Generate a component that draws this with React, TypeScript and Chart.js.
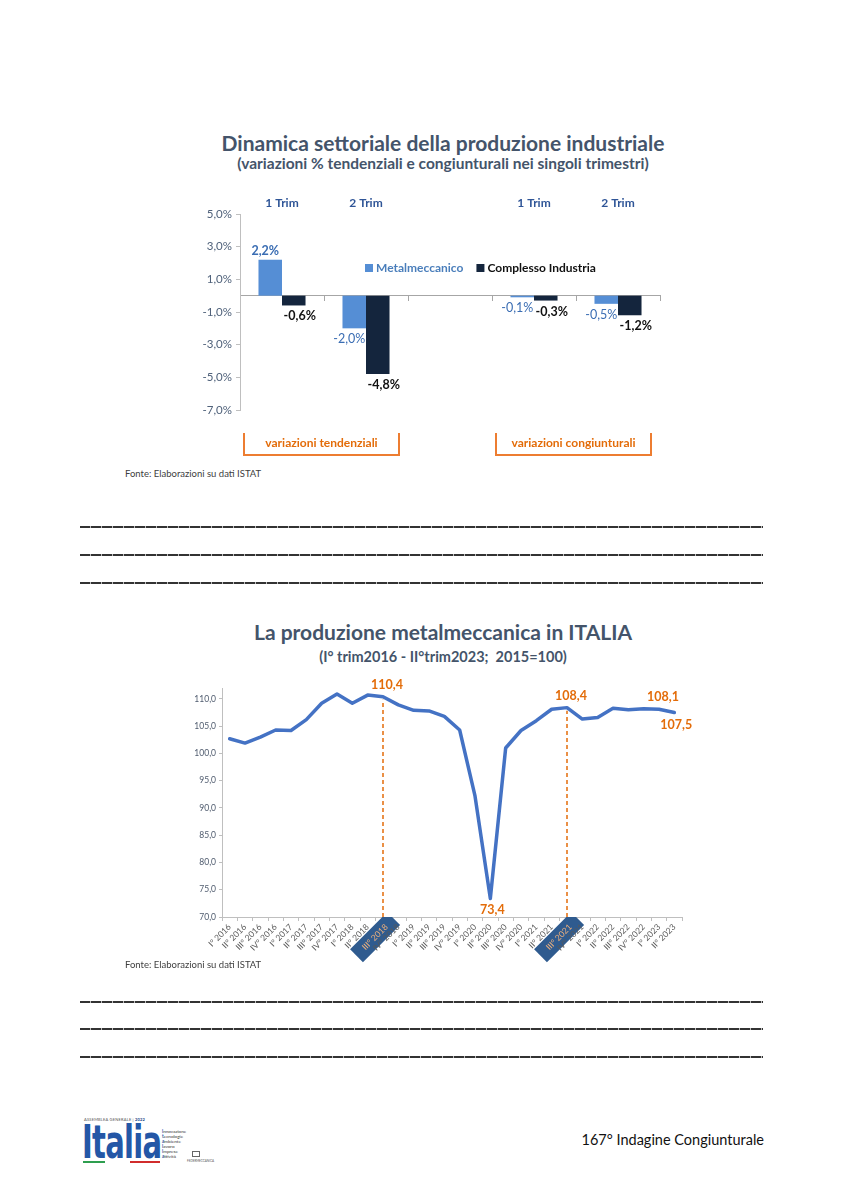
import React, { useEffect, useRef } from 'react';
import { Chart, registerables } from 'chart.js';

Chart.register(...registerables);

// ---------- Chart 1 data ----------
const barCategories = ['1 Trim', '2 Trim', '', '1 Trim', '2 Trim'];
const metalmeccanico = [2.2, -2.0, null, -0.1, -0.5];
const complessoIndustria = [-0.6, -4.8, null, -0.3, -1.2];
const barTickValues = [-7, -5, -3, -1, 1, 3, 5];
const barGroups = ['variazioni tendenziali', 'variazioni congiunturali'];

// ---------- Chart 2 data ----------
const quarters = [
  'I° 2016', 'II° 2016', 'III° 2016', 'IV° 2016',
  'I° 2017', 'II° 2017', 'III° 2017', 'IV° 2017',
  'I° 2018', 'II° 2018', 'III° 2018', 'IV° 2018',
  'I° 2019', 'II° 2019', 'III° 2019', 'IV° 2019',
  'I° 2020', 'II° 2020', 'III° 2020', 'IV° 2020',
  'I° 2021', 'II° 2021', 'III° 2021', 'IV° 2021',
  'I° 2022', 'II° 2022', 'III° 2022', 'IV° 2022',
  'I° 2023', 'II° 2023',
];
const produzione = [
  102.7, 101.9, 103.0, 104.3,
  104.2, 106.2, 109.2, 110.9,
  109.2, 110.7, 110.4, 108.9,
  107.9, 107.8, 106.8, 104.3,
  92.2, 73.4, 101.0, 104.2,
  106.0, 108.1, 108.4, 106.3,
  106.6, 108.3, 108.0, 108.2,
  108.1, 107.5,
];
const lineTickValues = [70, 75, 80, 85, 90, 95, 100, 105, 110];
const highlightedQuarters = ['III° 2018', 'III° 2021'];
const labelledAbove = ['III° 2018', 'III° 2021', 'I° 2023'];
const labelledBelow = ['II° 2020', 'II° 2023'];

const FONT = 'Lato, "Open Sans", "Liberation Sans", sans-serif';
const TITLE_COLOR = '#44546a';
const ORANGE = '#e36c09';

const fmt1 = (v: number) => v.toFixed(1).replace('.', ',');

const barDecor = {
  id: 'barDecor',
  afterDatasetsDraw(chart: any) {
    const ctx = chart.ctx;
    const area = chart.chartArea;
    const xs = chart.scales.x;
    ctx.save();
    // data labels
    chart.data.datasets.forEach((ds: any, di: number) => {
      const meta = chart.getDatasetMeta(di);
      meta.data.forEach((el: any, i: number) => {
        const v = ds.data[i];
        if (v === null || v === undefined) return;
        const label = fmt1(v) + '%';
        const weight = di === 1 || v > 0 ? 'bold' : 'normal';
        ctx.font = `${weight} 12.5px ${FONT}`;
        ctx.fillStyle = di === 0 ? '#3a6db3' : '#111111';
        ctx.textAlign = 'center';
        ctx.textBaseline = 'middle';
        const ty = v >= 0 ? el.y - 9 : el.y + 11;
        ctx.fillText(label, el.x + (di === 0 ? -5 : 6), ty);
      });
    });
    // legend inside plot
    const ly = area.top + 54;
    let lx = area.left + 125;
    chart.data.datasets.forEach((ds: any, di: number) => {
      ctx.fillStyle = ds.backgroundColor;
      ctx.fillRect(lx, ly - 4, 8, 8);
      ctx.font = `bold 12px ${FONT}`;
      ctx.fillStyle = di === 0 ? '#4a7ebb' : '#111111';
      ctx.textAlign = 'left';
      ctx.textBaseline = 'middle';
      ctx.fillText(ds.label, lx + 11, ly);
      lx += 11 + ctx.measureText(ds.label).width + 13;
    });
    // group brackets
    const spans = [[0, 1], [3, 4]];
    spans.forEach((sp, gi) => {
      const left = xs.getPixelForValue(sp[0]) - 38;
      const right = xs.getPixelForValue(sp[1]) + 33;
      const top = area.bottom + 23;
      const bottom = area.bottom + 45;
      ctx.strokeStyle = '#ed7d31';
      ctx.lineWidth = 2;
      ctx.beginPath();
      ctx.moveTo(left, top);
      ctx.lineTo(left, bottom);
      ctx.lineTo(right, bottom);
      ctx.lineTo(right, top);
      ctx.stroke();
      ctx.font = `bold 12px ${FONT}`;
      ctx.fillStyle = ORANGE;
      ctx.textAlign = 'center';
      ctx.textBaseline = 'middle';
      ctx.fillText(barGroups[gi], (left + right) / 2, area.bottom + 33);
    });
    ctx.restore();
  },
};

const lineDecor = {
  id: 'lineDecor',
  afterDatasetsDraw(chart: any) {
    const ctx = chart.ctx;
    const area = chart.chartArea;
    const meta = chart.getDatasetMeta(0);
    const labels: string[] = chart.data.labels;
    ctx.save();
    // dashed verticals
    highlightedQuarters.forEach((q) => {
      const i = labels.indexOf(q);
      const el = meta.data[i];
      ctx.strokeStyle = '#e46c0a';
      ctx.lineWidth = 1.5;
      ctx.setLineDash([4, 3]);
      ctx.beginPath();
      ctx.moveTo(el.x, area.bottom);
      ctx.lineTo(el.x, el.y + 3);
      ctx.stroke();
    });
    ctx.setLineDash([]);
    ctx.font = `bold 12.5px ${FONT}`;
    ctx.fillStyle = ORANGE;
    ctx.textAlign = 'center';
    ctx.textBaseline = 'middle';
    labelledAbove.forEach((q) => {
      const i = labels.indexOf(q);
      const el = meta.data[i];
      ctx.fillText(fmt1(produzione[i]), el.x + 4, el.y - 12);
    });
    labelledBelow.forEach((q) => {
      const i = labels.indexOf(q);
      const el = meta.data[i];
      ctx.fillText(fmt1(produzione[i]), el.x + 2, el.y + 12);
    });
    ctx.restore();
  },
};

function BarChart() {
  const ref = useRef<HTMLCanvasElement | null>(null);
  useEffect(() => {
    if (!ref.current) return;
    const chart = new Chart(ref.current, {
      type: 'bar',
      data: {
        labels: barCategories,
        datasets: [
          { label: 'Metalmeccanico', data: metalmeccanico as any, backgroundColor: '#558ed5', categoryPercentage: 0.56, barPercentage: 1.0 },
          { label: 'Complesso Industria', data: complessoIndustria as any, backgroundColor: '#14253d', categoryPercentage: 0.56, barPercentage: 1.0 },
        ],
      },
      options: {
        responsive: false,
        animation: false,
        devicePixelRatio: 1,
        layout: { padding: { left: 0, right: 20, top: 0, bottom: 55 } },
        plugins: { legend: { display: false }, tooltip: { enabled: false } },
        scales: {
          x: {
            position: 'top',
            offset: true,
            grid: { display: false },
            border: { display: false },
            ticks: { color: '#2f5597', font: { family: FONT, size: 12, weight: 'bold' }, padding: -4 },
            afterFit: (s: any) => { s.height = 24; },
          },
          xz: {
            type: 'category',
            position: { y: 0 } as any,
            offset: true,
            grid: { display: true, drawOnChartArea: false, tickLength: 5, color: '#a6a6a6', offset: true },
            border: { display: true, color: '#a6a6a6', width: 1 },
            ticks: { display: false },
          },
          y: {
            min: -7,
            max: 5,
            afterBuildTicks: (s: any) => { s.ticks = barTickValues.map((v) => ({ value: v })); },
            ticks: {
              color: '#4f617a',
              font: { family: FONT, size: 11.5 },
              padding: 4,
              callback: (v: any) => fmt1(Number(v)) + '%',
            },
            grid: { display: true, drawOnChartArea: false, tickLength: 4, color: '#bfbfbf' },
            border: { display: true, color: '#bfbfbf' },
            afterFit: (s: any) => { s.width = 60; },
          },
        },
      } as any,
      plugins: [barDecor],
    });
    return () => chart.destroy();
  }, []);
  return <canvas ref={ref} width={500} height={275} style={{ width: 500, height: 275, display: 'block' }} />;
}

function LineChart() {
  const ref = useRef<HTMLCanvasElement | null>(null);
  useEffect(() => {
    if (!ref.current) return;
    const chart = new Chart(ref.current, {
      type: 'line',
      data: {
        labels: quarters,
        datasets: [
          {
            label: 'Produzione metalmeccanica',
            data: produzione,
            borderColor: '#4472c4',
            borderWidth: 3.5,
            pointRadius: 0,
            tension: 0,
            borderJoinStyle: 'round',
            borderCapStyle: 'round',
            fill: false,
          },
        ],
      },
      options: {
        responsive: false,
        animation: false,
        devicePixelRatio: 1,
        layout: { padding: { left: 0, right: 18, top: 18, bottom: 0 } },
        plugins: { legend: { display: false }, tooltip: { enabled: false } },
        scales: {
          x: {
            offset: true,
            grid: { display: true, drawOnChartArea: false, tickLength: 4, color: '#bfbfbf', offset: true },
            border: { display: true, color: '#bfbfbf' },
            ticks: {
              autoSkip: false,
              minRotation: 45,
              maxRotation: 45,
              padding: 1,
              font: { family: FONT, size: 8.5 },
              color: (c: any) => (highlightedQuarters.includes(quarters[c.index]) ? '#f2b27c' : '#595959'),
              showLabelBackdrop: (c: any) => highlightedQuarters.includes(quarters[c.index]),
              backdropColor: '#2f5b8f',
              backdropPadding: { left: 10, right: 10, top: 4, bottom: 4 },
            },
            afterFit: (s: any) => { s.height = 48; },
          },
          y: {
            min: 70,
            max: 112,
            afterBuildTicks: (s: any) => { s.ticks = lineTickValues.map((v) => ({ value: v })); },
            ticks: {
              color: '#4f5b6e',
              font: { family: FONT, size: 8.5 },
              padding: 3,
              callback: (v: any) => fmt1(Number(v)),
            },
            grid: { display: true, drawOnChartArea: false, tickLength: 3, color: '#bfbfbf' },
            border: { display: true, color: '#bfbfbf' },
            afterFit: (s: any) => { s.width = 52; },
          },
        },
      } as any,
      plugins: [lineDecor],
    });
    return () => chart.destroy();
  }, []);
  return <canvas ref={ref} width={530} height={295} style={{ width: 530, height: 295, display: 'block' }} />;
}

const dashLine = (top: number) => (
  <div
    key={top}
    style={{
      position: 'absolute',
      left: 80,
      top,
      width: 683,
      height: 2,
      background: 'repeating-linear-gradient(90deg, #333 0px, #333 10px, #bbb 10px, #bbb 11px)',
    }}
  />
);

const centered = (top: number, size: number, text: string) => (
  <div
    style={{
      position: 'absolute',
      left: 143,
      width: 600,
      top,
      textAlign: 'center',
      fontFamily: FONT,
      fontWeight: 700,
      fontSize: size,
      lineHeight: `${size}px`,
      color: TITLE_COLOR,
      whiteSpace: 'pre',
    }}
  >
    {text}
  </div>
);

export default function App() {
  return (
    <div style={{ position: 'absolute', left: 0, top: 0, width: 849, height: 1200, background: '#fff', overflow: 'hidden', fontFamily: FONT }}>
      {centered(132, 21, 'Dinamica settoriale della produzione industriale')}
      {centered(156, 15.5, '(variazioni % tendenziali e congiunturali nei singoli trimestri)')}
      <div style={{ position: 'absolute', left: 180, top: 190 }}>
        <BarChart />
      </div>
      <div style={{ position: 'absolute', left: 125, top: 468, fontSize: 9.5, color: '#404040', fontFamily: FONT }}>
        Fonte: Elaborazioni su dati ISTAT
      </div>
      {[526, 554, 582].map(dashLine)}

      {centered(621, 21, 'La produzione metalmeccanica in ITALIA')}
      {centered(650, 14.5, '(I° trim2016 - II°trim2023;  2015=100)')}
      <div style={{ position: 'absolute', left: 170, top: 670 }}>
        <LineChart />
      </div>
      <div style={{ position: 'absolute', left: 125, top: 959, fontSize: 9.5, color: '#404040', fontFamily: FONT }}>
        Fonte: Elaborazioni su dati ISTAT
      </div>
      {[1001, 1028, 1056].map(dashLine)}

      {/* footer logo */}
      <div style={{ position: 'absolute', left: 84, top: 1117, fontSize: 4, color: '#555', fontFamily: FONT, letterSpacing: 0.2 }}>
        ASSEMBLEA GENERALE | <b style={{ color: '#1c4587' }}>2022</b>
      </div>
      <div
        style={{
          position: 'absolute',
          left: 82,
          top: 1119,
          fontSize: 46,
          lineHeight: '46px',
          fontWeight: 900,
          color: '#2457a6',
          fontFamily: '"Liberation Sans Narrow", "DejaVu Sans Condensed", "Liberation Sans", sans-serif',
          transform: 'scaleX(0.7)',
          transformOrigin: 'left top',
          letterSpacing: -1,
        }}
      >
        Italia
      </div>
      <div style={{ position: 'absolute', left: 83, top: 1161, width: 22, height: 2, background: '#2e9e4f' }} />
      <div style={{ position: 'absolute', left: 130, top: 1161, width: 30, height: 2, background: '#d12c2c' }} />
      <div style={{ position: 'absolute', left: 162, top: 1129, fontSize: 4.6, lineHeight: '5px', color: '#333', fontFamily: FONT }}>
        {['innovazione', 'tecnologie', 'ambiente', 'lavoro', 'imprese', 'attività'].map((w) => (
          <div key={w}>
            <b style={{ color: '#2457a6' }}>{w[0]}</b>
            {w.slice(1)}
          </div>
        ))}
      </div>
      <div style={{ position: 'absolute', left: 192, top: 1151, width: 8, height: 6, border: '1px solid #666', boxSizing: 'border-box' }} />
      <div style={{ position: 'absolute', left: 187, top: 1159, fontSize: 3, color: '#555', fontFamily: FONT }}>FEDERMECCANICA</div>
      <div style={{ position: 'absolute', right: 849 - 764, top: 1131, fontSize: 14.5, color: '#111', fontFamily: FONT, whiteSpace: 'nowrap' }}>
        167° Indagine Congiunturale
      </div>
    </div>
  );
}
